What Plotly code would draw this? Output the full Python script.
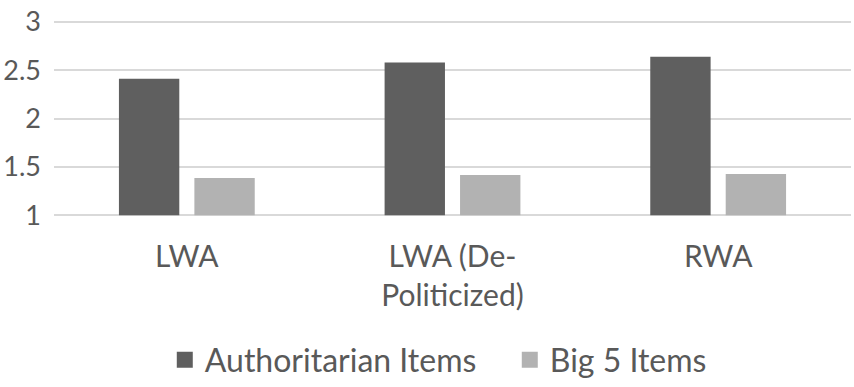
import plotly.graph_objects as go

categories = ["LWA", "LWA (De-<br>Politicized)", "RWA"]
authoritarian_items = [2.41, 2.58, 2.64]
big5_items = [1.385, 1.415, 1.425]
y_ticks = [1, 1.5, 2, 2.5, 3]
y_tick_labels = ["1", "1.5", "2", "2.5", "3"]
axis_base = 1  # bars start from the axis minimum of 1

dark = "#5f5f5f"
light = "#b2b2b2"
text_color = "#595959"
font_family = "Lato, Carlito, Calibri, sans-serif"

fig = go.Figure()
fig.add_trace(go.Bar(x=categories, y=[v - axis_base for v in authoritarian_items],
                     base=axis_base, customdata=authoritarian_items,
                     hovertemplate="%{x}: %{customdata}<extra></extra>",
                     marker=dict(color=dark, line=dict(width=0)),
                     name="Authoritarian Items", showlegend=False))
fig.add_trace(go.Bar(x=categories, y=[v - axis_base for v in big5_items],
                     base=axis_base, customdata=big5_items,
                     hovertemplate="%{x}: %{customdata}<extra></extra>",
                     marker=dict(color=light, line=dict(width=0)),
                     name="Big 5 Items", showlegend=False))
# legend entries with larger square symbols
fig.add_trace(go.Scatter(x=[None], y=[None], mode="markers",
                         marker=dict(symbol="square", size=16, color=dark),
                         name="Authoritarian Items"))
fig.add_trace(go.Scatter(x=[None], y=[None], mode="markers",
                         marker=dict(symbol="square", size=16, color=light),
                         name="Big 5 Items"))

fig.update_layout(
    width=854, height=387,
    margin=dict(l=54, r=3, t=17, b=167, pad=0, autoexpand=False),
    paper_bgcolor="white", plot_bgcolor="white",
    barmode="group", bargap=0.432, bargroupgap=0.2,
    font=dict(family=font_family, size=27, color=text_color),
    showlegend=True,
    legend=dict(orientation="h", x=0.139, xanchor="left", y=-0.69, yanchor="middle",
                font=dict(size=32, color=text_color), itemsizing="trace",
                traceorder="normal", entrywidth=300, entrywidthmode="pixels"),
    xaxis=dict(showgrid=False, showline=False, zeroline=False, ticks="",
               automargin=False,
               ticklabelstandoff=16, tickfont=dict(size=30, color=text_color)),
    yaxis=dict(range=[0.95, 3.05], tickvals=y_ticks, ticktext=y_tick_labels,
               showgrid=True, gridcolor="#d9d9d9", gridwidth=2, zeroline=False,
               automargin=False,
               showline=False, ticks="", ticklabelstandoff=12,
               tickfont=dict(size=27, color=text_color)),
)

fig.write_html("out.html", config={"displayModeBar": False},
               post_script="document.body.style.margin='0';document.body.style.padding='0';")
